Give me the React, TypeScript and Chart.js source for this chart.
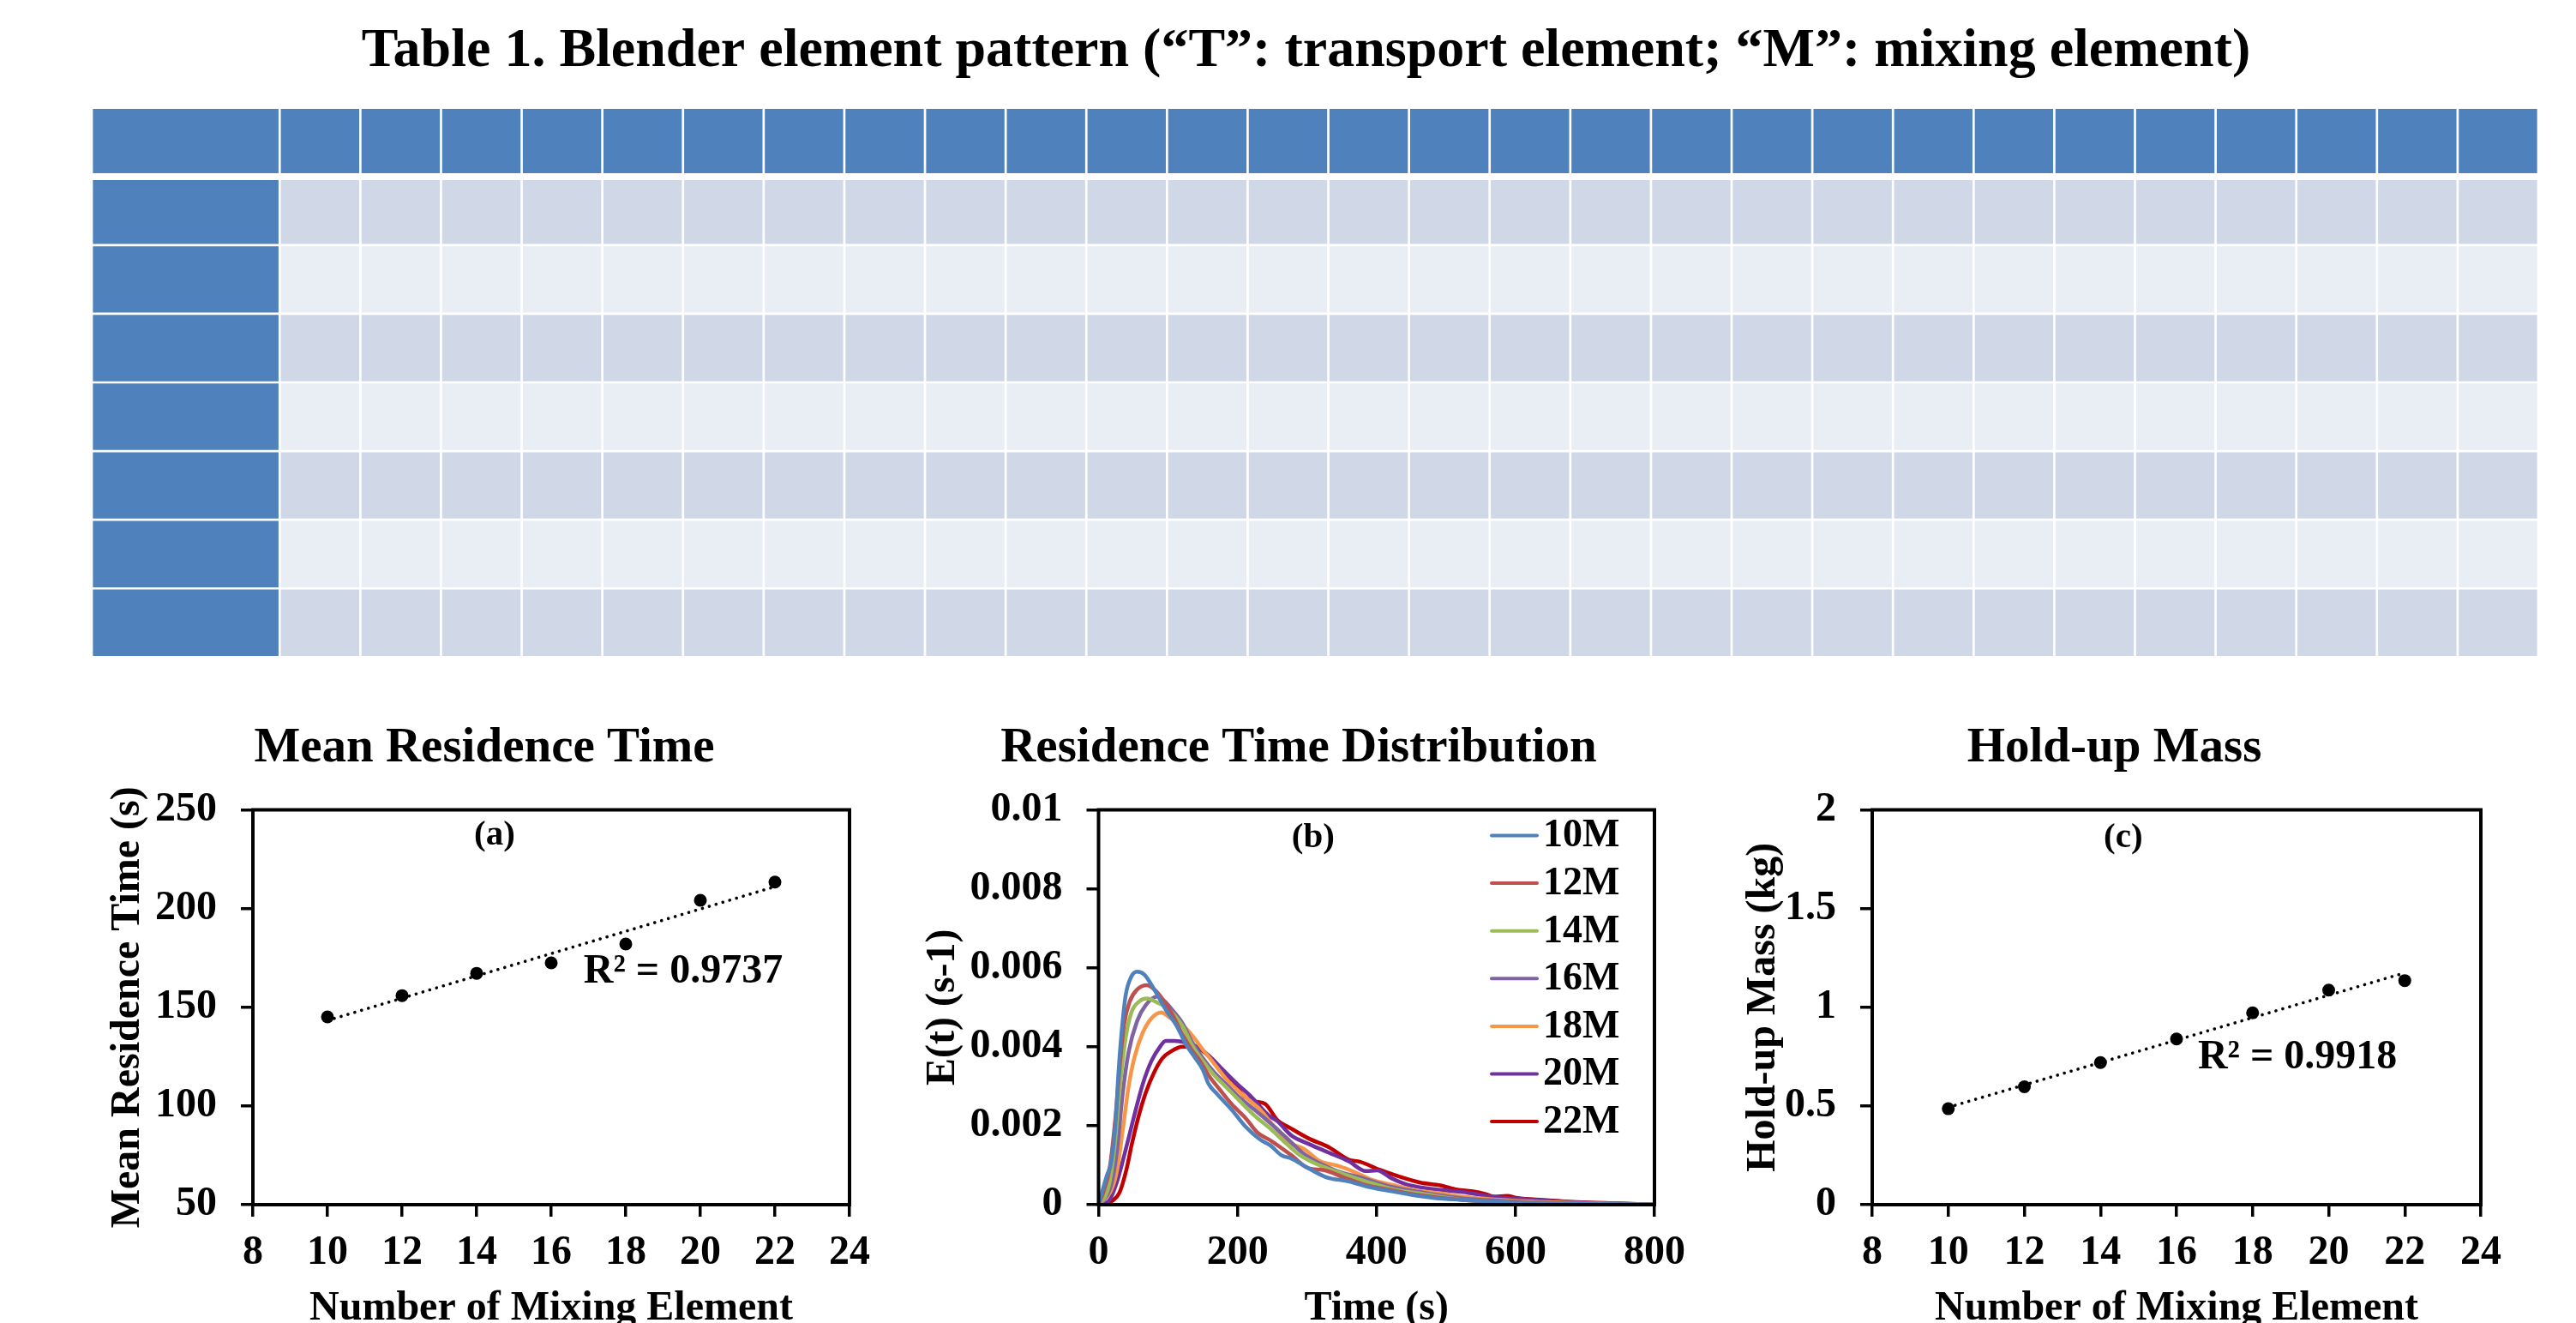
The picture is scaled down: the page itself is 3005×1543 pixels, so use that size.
import React, { useEffect, useRef } from 'react';
import { Chart, registerables } from 'chart.js';

Chart.register(...registerables);

const FONT = '"Liberation Serif", "Times New Roman", Times, serif';
Chart.defaults.font.family = FONT;
Chart.defaults.color = '#000';

// ---------------- Table 1 ----------------
const tableTitle = 'Table 1. Blender element pattern (\u201cT\u201d: transport element; \u201cM\u201d: mixing element)';
const tableRows = ['Header', 'Row 1', 'Row 2', 'Row 3', 'Row 4', 'Row 5', 'Row 6', 'Row 7'];
const tableColumnWidths = [
  2.33, 1, 1, 1, 1, 1, 1, 1, 1, 1, 1, 1, 1, 1, 1, 1, 1, 1, 1, 1, 1, 1, 1, 1, 1, 1, 1, 1, 1,
];

// ---------------- (a) and (c) ----------------
const mixingElements = [10, 12, 14, 16, 18, 20, 22];
const meanResidenceTime = [145.1, 155.9, 167.2, 172.5, 182, 204.2, 213.4];
const holdUpMass = [0.486, 0.597, 0.72, 0.839, 0.972, 1.087, 1.135];
const mrtR2Label = 'R\u00b2 = 0.9737';
const massR2Label = 'R\u00b2 = 0.9918';
const mixingTicks = [8, 10, 12, 14, 16, 18, 20, 22, 24];
const mrtTicks = [50, 100, 150, 200, 250];
const massTicks = [0, 0.5, 1, 1.5, 2];

// ---------------- (b) RTD curves ----------------
const rtdLabels = ['10M', '12M', '14M', '16M', '18M', '20M', '22M'];
const rtdColors = ['#4F81BD', '#C0504D', '#9BBB59', '#8064A2', '#F79646', '#7030A0', '#C00000'];
const timeTicks = [0, 200, 400, 600, 800];
const eTicks = [0, 0.002, 0.004, 0.006, 0.008, 0.01];

const t10 = [0, 6, 12, 18.5, 24.6, 28.7, 32.8, 39, 47.3, 55.5, 65.8, 80.2, 96.6, 113, 125.4, 137.7, 150, 158.3, 170.7, 191.3, 211.8, 232.4, 247.3, 263.2, 277.6, 298.2, 327, 359.9, 388.7, 421.6, 450.4, 483.3, 524.5, 570, 620, 680, 750, 800];
const e10 = [0, 0.00038, 0.00074, 0.0011, 0.00212, 0.00335, 0.00429, 0.0053, 0.00578, 0.0059, 0.00583, 0.00545, 0.00494, 0.00451, 0.00407, 0.00375, 0.00342, 0.00306, 0.0028, 0.00241, 0.00197, 0.00165, 0.0015, 0.00125, 0.00117, 0.00096, 0.0007, 0.00059, 0.00045, 0.00034, 0.00025, 0.00017, 0.00012, 0.00007, 0.00004, 0.00002, 0.00001, 0];

const t12 = [0, 8.1, 16.3, 24.6, 30.8, 36.9, 45.2, 55.5, 69.9, 84.3, 96.6, 109, 121.3, 133.6, 146, 158.3, 174.7, 191.3, 211.8, 228.3, 248.8, 277.6, 302.3, 322.9, 351.6, 380.5, 417.5, 458.6, 524.5, 580, 640, 700, 760, 800];
const e12 = [0, 0.00038, 0.00096, 0.00226, 0.00357, 0.00458, 0.00516, 0.00545, 0.00556, 0.00538, 0.00509, 0.00472, 0.00429, 0.00393, 0.00364, 0.00328, 0.00291, 0.00255, 0.00219, 0.00183, 0.00161, 0.00125, 0.00092, 0.00088, 0.0007, 0.00052, 0.00038, 0.00025, 0.00012, 0.00007, 0.00004, 0.00002, 0.00001, 0];

const t14 = [0, 14.4, 22.6, 30.8, 39, 47.3, 59.6, 69.9, 84.3, 96.6, 109, 121.3, 133.6, 150, 166.5, 183, 203.6, 224.2, 248.8, 270, 290, 318.7, 351.6, 384.6, 425.8, 466.9, 524.5, 580, 640, 700, 760, 800];
const e14 = [0, 0.00045, 0.00139, 0.00299, 0.00422, 0.00487, 0.00516, 0.00522, 0.00512, 0.00501, 0.0048, 0.00451, 0.00407, 0.00364, 0.00328, 0.00299, 0.00262, 0.00226, 0.0019, 0.00155, 0.00125, 0.00099, 0.00078, 0.00059, 0.00038, 0.00027, 0.00012, 0.00007, 0.00004, 0.00002, 0.00001, 0];

const t16 = [0, 18.5, 26.7, 34.9, 43.2, 55.5, 67.8, 84.3, 94.6, 109, 121.3, 133.6, 150, 166.5, 183, 203.6, 224.2, 248.8, 270, 298.2, 339.3, 380.5, 421.6, 462.8, 524.5, 580, 640, 700, 760, 800];
const e16 = [0, 0.00052, 0.00139, 0.00284, 0.00386, 0.00465, 0.00505, 0.00527, 0.00516, 0.00487, 0.00458, 0.00415, 0.00371, 0.00335, 0.00306, 0.0027, 0.00241, 0.00204, 0.0017, 0.00125, 0.00088, 0.00067, 0.00045, 0.00032, 0.00016, 0.0001, 0.00005, 0.00003, 0.00001, 0];

const t18 = [0, 18.5, 26.7, 34.9, 43.2, 51.4, 63.7, 76.1, 90.5, 100.7, 113, 125.4, 137.7, 150, 166.5, 183, 199.4, 215.9, 232.4, 253, 277.6, 294, 318.7, 343.4, 368.1, 392.8, 425.8, 462.8, 491.6, 524.5, 600, 700, 800];
const e18 = [0, 0.00038, 0.00088, 0.0019, 0.00299, 0.00371, 0.00436, 0.00472, 0.00487, 0.00476, 0.00462, 0.00447, 0.00422, 0.00393, 0.00357, 0.0032, 0.00291, 0.00266, 0.00241, 0.00197, 0.00154, 0.00143, 0.0011, 0.00099, 0.00083, 0.00063, 0.00049, 0.00034, 0.00029, 0.0002, 0.0001, 0.00004, 0];

const t20 = [0, 15, 26.7, 39, 51.4, 63.7, 76.1, 88.4, 96.6, 109, 125.4, 141.8, 158.3, 178.8, 199.4, 220, 244.7, 257, 277.6, 302.3, 331.1, 359.9, 384.6, 401, 421.6, 442.2, 475.1, 524.5, 560, 600, 650, 700, 760, 800];
const e20 = [0, 0.0001, 0.00059, 0.00139, 0.00226, 0.00306, 0.00364, 0.004, 0.00415, 0.00415, 0.00411, 0.004, 0.00378, 0.00342, 0.00306, 0.00273, 0.00226, 0.00212, 0.00175, 0.00154, 0.00132, 0.0011, 0.00085, 0.00087, 0.00067, 0.00052, 0.00041, 0.00032, 0.00022, 0.00015, 0.0001, 0.00005, 0.00002, 0];

const t22 = [0, 10, 20, 30, 40, 48, 58, 68, 80, 92, 105, 121, 138, 150, 166, 183, 195, 208, 224, 240, 257, 277, 302, 331, 360, 376, 405, 426, 463, 492, 516, 537, 557, 570, 588, 603, 640, 689, 750, 800];
const e22 = [0, 0.00003, 0.0001, 0.0003, 0.00088, 0.00154, 0.00226, 0.00284, 0.00335, 0.00371, 0.00389, 0.004, 0.004, 0.00389, 0.00364, 0.00328, 0.00311, 0.00277, 0.00262, 0.00255, 0.00215, 0.00193, 0.00168, 0.00146, 0.00114, 0.00109, 0.00088, 0.00075, 0.00056, 0.00049, 0.00038, 0.00034, 0.00027, 0.0002, 0.00022, 0.00017, 0.00012, 0.000065, 0.00003, 0];

const rtdTimes = [t10, t12, t14, t16, t18, t20, t22];
const rtdValues = [e10, e12, e14, e16, e18, e20, e22];

// ---------------- helpers ----------------
const HEADER_BLUE = '#4F81BD';
const BAND_DARK = '#D0D8E8';
const BAND_LIGHT = '#E9EDF4';

function linearFit(xs: number[], ys: number[]) {
  const n = xs.length;
  const mx = xs.reduce((a, b) => a + b, 0) / n;
  const my = ys.reduce((a, b) => a + b, 0) / n;
  let sxy = 0;
  let sxx = 0;
  for (let i = 0; i < n; i++) {
    sxy += (xs[i] - mx) * (ys[i] - my);
    sxx += (xs[i] - mx) * (xs[i] - mx);
  }
  const slope = sxy / sxx;
  return { slope, intercept: my - slope * mx };
}

const framePlugin = {
  id: 'frameBox',
  afterDraw(chart: any) {
    const { ctx, chartArea } = chart;
    if (!chartArea) return;
    ctx.save();
    ctx.strokeStyle = '#000';
    ctx.lineWidth = 4;
    ctx.strokeRect(chartArea.left, chartArea.top, chartArea.right - chartArea.left, chartArea.bottom - chartArea.top);
    ctx.restore();
  },
};

type Note = { text: string; x: number; y: number; size: number };
function notesPlugin(notes: Note[]) {
  return {
    id: 'textNotes',
    afterDraw(chart: any) {
      const { ctx, scales } = chart;
      notes.forEach((n) => {
        ctx.save();
        ctx.font = `bold ${n.size}px ${FONT}`;
        ctx.fillStyle = '#000';
        ctx.textAlign = 'center';
        ctx.textBaseline = 'middle';
        ctx.fillText(n.text, scales.x.getPixelForValue(n.x), scales.y.getPixelForValue(n.y));
        ctx.restore();
      });
    },
  };
}

const insideLegendPlugin = {
  id: 'insideLegend',
  afterDraw(chart: any) {
    const { ctx, chartArea } = chart;
    const left = chartArea.left + 458.5;
    const top = chartArea.top + 30;
    const step = 55.6;
    chart.data.datasets.forEach((ds: any, i: number) => {
      const y = top + i * step;
      ctx.save();
      ctx.strokeStyle = ds.borderColor;
      ctx.lineWidth = 4;
      ctx.lineCap = 'round';
      ctx.beginPath();
      ctx.moveTo(left, y);
      ctx.lineTo(left + 53, y);
      ctx.stroke();
      ctx.font = `bold 46px ${FONT}`;
      ctx.fillStyle = '#000';
      ctx.textAlign = 'left';
      ctx.textBaseline = 'middle';
      ctx.fillText(ds.label, left + 60, y + 1);
      ctx.restore();
    });
  },
};

function axisOptions(p: any) {
  const tickFont = { size: 48, weight: 'bold' as const };
  return {
    responsive: true,
    maintainAspectRatio: false,
    animation: false,
    devicePixelRatio: 1,
    layout: { padding: 0 },
    plugins: {
      legend: { display: false },
      tooltip: { enabled: false },
      title: {
        display: true,
        text: p.title,
        color: '#000',
        font: { size: 57, weight: 'bold' },
        padding: { top: 18.8, bottom: 37.3 },
      },
    },
    scales: {
      x: {
        type: 'linear',
        min: p.xTicks[0],
        max: p.xTicks[p.xTicks.length - 1],
        ticks: {
          stepSize: p.xTicks[1] - p.xTicks[0],
          font: tickFont,
          color: '#000',
          padding: 13.5,
          maxRotation: 0,
          autoSkip: false,
        },
        grid: { display: true, drawOnChartArea: false, drawTicks: true, tickLength: 14, lineWidth: 3.5, color: '#000' },
        border: { display: false },
        title: {
          display: true,
          text: p.xTitle,
          color: '#000',
          font: { size: 48, weight: 'bold' },
          padding: { top: 0, bottom: 45 },
        },
        afterFit: (s: any) => {
          s.height = 195;
        },
      },
      y: {
        type: 'linear',
        position: 'left',
        min: p.yTicks[0],
        max: p.yTicks[p.yTicks.length - 1],
        ticks: {
          stepSize: p.yTicks[1] - p.yTicks[0],
          font: tickFont,
          color: '#000',
          padding: 28,
          autoSkip: false,
          callback: (v: any) => (v === 0 ? '0' : String(Number(Number(v).toFixed(4)))),
        },
        grid: { display: true, drawOnChartArea: false, drawTicks: true, tickLength: 14, lineWidth: 3.5, color: '#000' },
        border: { display: false },
        title: {
          display: true,
          text: p.yTitle,
          color: '#000',
          font: { size: 48, weight: 'bold' },
          padding: { top: p.yTitlePad, bottom: 0 },
        },
        afterFit: (s: any) => {
          s.width = p.yWidth;
        },
      },
      ySpacer: {
        type: 'linear',
        position: 'right',
        display: true,
        ticks: { display: false },
        grid: { display: false },
        border: { display: false },
        title: { display: false },
        afterFit: (s: any) => {
          s.width = p.rightWidth;
        },
      },
    },
  };
}

function tableConfig(): any {
  const total = tableColumnWidths.reduce((a, b) => a + b, 0);
  return {
    type: 'bar',
    data: {
      labels: tableRows,
      datasets: tableColumnWidths.map((w, c) => ({
        label: `Column ${c}`,
        data: tableRows.map(() => w),
        backgroundColor: (ctx: any) => {
          const r = ctx.dataIndex;
          if (r === 0 || c === 0) return HEADER_BLUE;
          return r % 2 === 1 ? BAND_DARK : BAND_LIGHT;
        },
        borderColor: '#FFFFFF',
        borderWidth: (ctx: any) => {
          const r = ctx.dataIndex;
          return {
            top: r === 1 ? 4.3 : 1.35,
            bottom: r === 0 ? 3.7 : 1.35,
            left: 1.35,
            right: 1.35,
          };
        },
        borderSkipped: false,
        inflateAmount: 0,
        barPercentage: 1,
        categoryPercentage: 1,
      })),
    },
    options: {
      indexAxis: 'y',
      responsive: true,
      maintainAspectRatio: false,
      animation: false,
      devicePixelRatio: 1,
      layout: { padding: { left: 0, right: 0, top: 0, bottom: 3.7 } },
      scales: {
        x: { type: 'linear', stacked: true, min: 0, max: total, display: false },
        y: {
          stacked: true,
          display: true,
          ticks: { display: false },
          grid: { display: false },
          border: { display: false },
          afterFit: (s: any) => {
            s.width = 21;
          },
        },
      },
      plugins: {
        legend: { display: false },
        tooltip: { enabled: false },
        title: {
          display: true,
          text: tableTitle,
          color: '#000',
          font: { size: 64, weight: 'bold' },
          padding: { top: 21.6, bottom: 27.3 },
        },
      },
    },
  };
}

function fitChartConfig(ys: number[], p: any): any {
  const fit = linearFit(mixingElements, ys);
  const x0 = mixingElements[0];
  const x1 = mixingElements[mixingElements.length - 1];
  return {
    type: 'scatter',
    data: {
      datasets: [
        {
          label: 'data',
          data: mixingElements.map((x, i) => ({ x, y: ys[i] })),
          pointRadius: 7.5,
          pointBackgroundColor: '#000',
          pointBorderWidth: 0,
          showLine: false,
        },
        {
          type: 'line',
          label: 'trend',
          data: [
            { x: x0, y: fit.intercept + fit.slope * x0 },
            { x: x1, y: fit.intercept + fit.slope * x1 },
          ],
          borderColor: '#000',
          borderWidth: 3.6,
          borderDash: [0.1, 8.2],
          borderCapStyle: 'round',
          pointRadius: 0,
          fill: false,
        },
      ],
    },
    options: axisOptions(p),
    plugins: [framePlugin, notesPlugin(p.notes)],
  };
}

function mrtConfig(): any {
  return fitChartConfig(meanResidenceTime, {
    title: 'Mean Residence Time',
    xTitle: 'Number of Mixing Element',
    yTitle: 'Mean Residence Time (s)',
    xTicks: mixingTicks,
    yTicks: mrtTicks,
    yWidth: 196,
    yTitlePad: 22.2,
    rightWidth: 40,
    notes: [
      { text: '(a)', x: 14.48, y: 236.8, size: 41 },
      { text: mrtR2Label, x: 19.54, y: 167.8, size: 48 },
    ],
  });
}

function massConfig(): any {
  return fitChartConfig(holdUpMass, {
    title: 'Hold-up Mass',
    xTitle: 'Number of Mixing Element',
    yTitle: 'Hold-up Mass (kg)',
    xTicks: mixingTicks,
    yTicks: massTicks,
    yWidth: 185,
    yTitlePad: 30.2,
    rightWidth: 40,
    notes: [
      { text: '(c)', x: 14.6, y: 1.857, size: 41 },
      { text: massR2Label, x: 19.18, y: 0.743, size: 48 },
    ],
  });
}

function rtdConfig(): any {
  return {
    type: 'line',
    data: {
      datasets: rtdLabels.map((label, i) => ({
        label,
        data: rtdTimes[i].map((t, j) => ({ x: t, y: rtdValues[i][j] })),
        borderColor: rtdColors[i],
        backgroundColor: rtdColors[i],
        borderWidth: 4.5,
        pointRadius: 0,
        cubicInterpolationMode: 'monotone',
        fill: false,
      })),
    },
    options: axisOptions({
      title: 'Residence Time Distribution',
      xTitle: 'Time (s)',
      yTitle: 'E(t) (s-1)',
      xTicks: timeTicks,
      yTicks: eTicks,
      yWidth: 233.5,
      yTitlePad: 24.2,
      rightWidth: 52,
    }),
    plugins: [framePlugin, insideLegendPlugin, notesPlugin([{ text: '(b)', x: 308.8, y: 0.00928, size: 41 }])],
  };
}

function ChartBox(props: { left: number; top: number; width: number; height: number; make: () => any }) {
  const ref = useRef<HTMLCanvasElement>(null);
  useEffect(() => {
    const chart = new Chart(ref.current as HTMLCanvasElement, props.make());
    return () => chart.destroy();
  }, []);
  return (
    <div style={{ position: 'absolute', left: props.left, top: props.top, width: props.width, height: props.height }}>
      <canvas ref={ref} />
    </div>
  );
}

export default function App() {
  return (
    <div
      style={{
        position: 'absolute',
        left: 0,
        top: 0,
        width: 3005,
        height: 1543,
        overflow: 'hidden',
        background: '#FFFFFF',
      }}
    >
      <ChartBox left={86} top={0} width={2875} height={770} make={tableConfig} />
      <ChartBox left={99} top={820} width={932} height={780} make={mrtConfig} />
      <ChartBox left={1048} top={820} width={934} height={780} make={rtdConfig} />
      <ChartBox left={1999} top={820} width={935} height={780} make={massConfig} />
    </div>
  );
}
